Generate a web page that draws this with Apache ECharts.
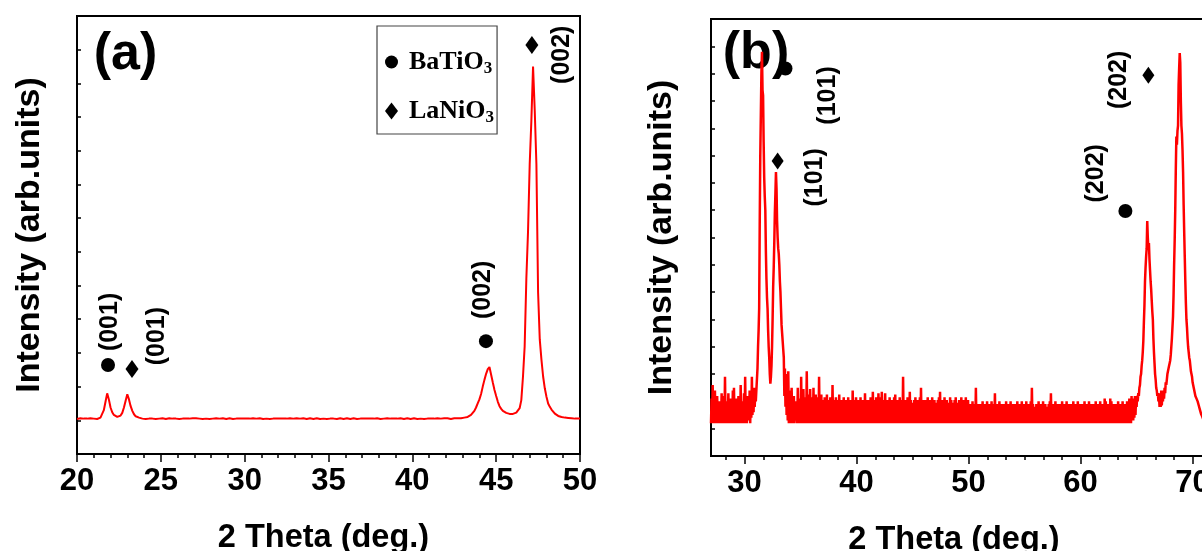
<!DOCTYPE html>
<html><head><meta charset="utf-8">
<script src="https://cdn.jsdelivr.net/npm/echarts@6/dist/echarts.min.js"></script>
<style>html,body{margin:0;padding:0;background:#fff}#c{width:1202px;height:551px}</style>
</head><body><div id="c"></div>
<script>
// ---------- Panel (a): XRD scan 20–50°, step 0.1° ----------
const thetaStartA = 20.0, thetaStepA = 0.1;
const intensityA = [
1.04,1.05,1.06,1.04,1.05,1.06,1.05,1.04,1.06,1.05,
1.05,1.06,1.04,1.06,1.08,1.12,1.30,1.55,1.80,1.62,
1.38,1.24,1.16,1.12,1.10,1.11,1.14,1.22,1.38,1.58,
1.77,1.62,1.42,1.28,1.18,1.12,1.09,1.08,1.06,1.05,
1.05,1.04,1.06,1.05,1.04,1.05,1.06,1.04,1.05,1.05,
1.04,1.06,1.05,1.04,1.05,1.06,1.04,1.05,1.06,1.05,
1.05,1.04,1.06,1.05,1.03,1.05,1.06,1.05,1.04,1.06,
1.05,1.06,1.04,1.05,1.06,1.04,1.05,1.05,1.06,1.04,
1.06,1.05,1.04,1.06,1.05,1.05,1.04,1.06,1.05,1.04,
1.05,1.06,1.05,1.04,1.06,1.05,1.04,1.05,1.06,1.05,
1.04,1.05,1.06,1.05,1.04,1.06,1.05,1.05,1.04,1.06,
1.05,1.04,1.06,1.05,1.05,1.04,1.06,1.05,1.04,1.05,
1.06,1.05,1.04,1.05,1.06,1.05,1.04,1.06,1.05,1.05,
1.04,1.06,1.05,1.05,1.04,1.06,1.05,1.04,1.05,1.06,
1.05,1.04,1.05,1.06,1.05,1.04,1.06,1.05,1.05,1.04,
1.06,1.05,1.04,1.05,1.06,1.04,1.05,1.06,1.05,1.04,
1.05,1.06,1.05,1.04,1.05,1.06,1.05,1.04,1.06,1.05,
1.04,1.05,1.06,1.05,1.04,1.05,1.06,1.05,1.04,1.06,
1.05,1.04,1.06,1.05,1.05,1.06,1.04,1.05,1.06,1.05,
1.06,1.05,1.04,1.06,1.05,1.04,1.05,1.06,1.05,1.04,
1.05,1.06,1.05,1.04,1.06,1.05,1.05,1.04,1.06,1.05,
1.04,1.05,1.06,1.05,1.04,1.06,1.05,1.05,1.04,1.06,
1.05,1.06,1.05,1.04,1.05,1.06,1.05,1.06,1.05,1.06,
1.06,1.08,1.09,1.10,1.13,1.16,1.22,1.28,1.38,1.50,
1.62,1.78,2.00,2.20,2.38,2.52,2.58,2.35,2.12,1.90,
1.72,1.55,1.42,1.34,1.28,1.24,1.22,1.20,1.19,1.18,
1.19,1.20,1.23,1.28,1.36,1.60,2.30,3.20,5.20,6.60,
8.60,9.90,11.50,10.20,8.60,4.80,3.40,2.80,2.30,1.95,
1.70,1.50,1.40,1.32,1.26,1.20,1.16,1.13,1.11,1.10,
1.09,1.08,1.10,1.07,1.08,1.06,1.07,1.05,1.06,1.05,
1.05
];

// ---------- Panel (b): XRD scan 27–72°, step 0.05° ----------
const thetaStartB = 27.0, thetaStepB = 0.05;
const intensityB = [
1.2,2.1,1.3,2.6,1.2,1.9,1.2,2.4,1.3,1.8,1.2,2.2,1.2,1.7,1.4,2.0,1.2,1.9,1.3,2.3,
1.2,1.8,1.2,2.2,1.3,2.9,1.2,2.0,1.2,1.7,1.3,2.3,1.2,1.9,1.2,2.1,1.4,1.8,1.2,2.4,
1.2,2.5,1.3,1.9,1.2,2.1,1.2,1.7,1.3,2.2,1.2,1.8,1.2,2.6,1.3,1.9,1.2,2.0,1.4,2.3,
1.2,2.9,1.3,2.0,1.2,2.2,1.5,1.9,1.3,2.4,1.2,2.1,1.4,2.9,1.5,2.2,1.6,2.5,1.8,2.3,
2.0,2.4,2.8,3.2,4.0,4.6,5.4,8.5,11.0,12.5,14.0,14.8,13.4,13.2,11.5,10.2,9.5,9.0,7.5,6.5,
5.8,5.4,4.6,4.0,3.6,3.0,2.65,2.9,3.3,4.0,5.0,6.2,6.9,7.8,8.9,9.6,10.4,9.8,8.6,8.0,
7.6,7.4,7.0,6.4,6.0,5.4,4.8,4.5,4.2,3.9,3.6,2.2,3.2,1.8,3.0,1.5,2.7,1.3,3.1,1.2,
2.4,1.2,2.3,1.3,2.5,1.2,2.0,1.2,2.2,1.2,1.2,2.0,1.3,1.9,1.2,2.5,1.2,1.8,1.3,2.1,
1.2,2.9,1.2,2.05,1.3,2.45,1.2,2.15,1.2,1.95,1.2,3.1,1.3,2.25,1.2,2.05,1.2,2.45,1.3,1.95,
1.2,2.15,1.2,2.5,1.2,1.95,1.3,2.25,1.2,2.05,1.2,2.15,1.2,2.9,1.3,2.05,1.2,2.25,1.2,1.95,
1.2,2.05,1.2,2.15,1.3,1.85,1.2,2.25,1.2,1.95,1.2,2.05,1.2,2.15,1.3,1.95,1.2,2.6,1.2,2.05,
1.2,1.95,1.2,2.15,1.2,1.85,1.3,2.05,1.2,2.25,1.2,1.95,1.2,2.05,1.2,1.85,1.3,2.15,1.2,1.95,
1.2,2.05,1.2,1.85,1.2,2.15,1.2,1.95,1.3,2.05,1.2,1.85,1.2,2.4,1.2,2.05,1.2,1.95,1.2,2.15,
1.2,1.85,1.2,2.05,1.3,1.95,1.2,2.15,1.2,1.85,1.2,2.05,1.2,1.95,1.2,2.3,1.3,2.05,1.2,1.95,
1.2,2.05,1.2,1.95,1.2,2.15,1.2,1.85,1.2,2.35,1.3,1.95,1.2,2.05,1.2,2.15,1.2,1.85,1.2,2.3,
1.2,1.95,1.2,2.15,1.2,2.35,1.3,2.05,1.2,1.85,1.2,2.3,1.2,1.95,1.2,2.05,1.2,1.85,1.3,2.15,
1.2,1.95,1.2,2.05,1.2,1.85,1.2,2.15,1.2,2.25,1.3,1.95,1.2,2.05,1.2,1.85,1.2,2.15,1.2,1.95,
1.2,2.05,1.2,2.9,1.3,1.95,1.2,2.05,1.2,1.85,1.2,2.15,1.2,1.95,1.2,2.35,1.3,2.05,1.2,1.85,
1.2,1.95,1.2,2.05,1.2,2.15,1.2,1.85,1.3,2.05,1.2,1.95,1.2,2.15,1.2,2.5,1.2,1.95,1.2,2.05,
1.2,1.85,1.2,2.05,1.2,1.95,1.3,2.15,1.2,1.85,1.2,2.05,1.2,1.95,1.2,2.15,1.2,1.85,1.2,2.05,
1.2,1.95,1.2,1.85,1.2,2.05,1.2,2.15,1.3,2.35,1.2,1.95,1.2,2.05,1.2,1.85,1.2,2.15,1.2,1.95,
1.2,2.05,1.2,1.85,1.2,1.95,1.2,2.15,1.2,2.05,1.3,1.85,1.2,1.95,1.2,2.05,1.2,2.15,1.2,1.85,
1.2,1.95,1.2,2.05,1.2,1.85,1.2,2.15,1.2,1.95,1.2,2.05,1.3,1.85,1.2,2.15,1.2,1.95,1.2,2.05,
1.2,1.7,1.2,1.9,1.2,1.8,1.2,2.0,1.2,1.7,1.3,1.9,1.2,2.5,1.2,1.8,1.2,1.9,1.2,1.7,
1.2,1.9,1.2,1.8,1.2,2.0,1.2,1.7,1.2,1.9,1.2,1.8,1.3,2.0,1.2,1.7,1.2,1.9,1.2,1.8,
1.2,2.0,1.2,1.7,1.2,1.9,1.3,2.3,1.2,1.8,1.2,1.9,1.2,1.7,1.2,2.0,1.2,1.8,1.2,1.9,
1.2,1.8,1.2,1.9,1.2,1.7,1.2,2.0,1.2,1.8,1.3,1.9,1.2,1.7,1.2,2.0,1.2,1.8,1.2,1.9,
1.2,1.7,1.2,1.9,1.2,1.8,1.2,2.0,1.2,1.7,1.2,1.9,1.3,1.8,1.2,2.0,1.2,1.7,1.2,1.9,
1.2,1.8,1.2,2.0,1.2,1.7,1.2,1.9,1.2,1.8,1.2,2.0,1.2,2.5,1.3,1.9,1.2,1.7,1.2,1.8,
1.2,1.9,1.2,1.7,1.2,2.0,1.2,1.8,1.2,1.9,1.3,1.7,1.2,2.0,1.2,1.8,1.2,1.9,1.2,1.7,
1.2,1.8,1.2,1.9,1.2,2.0,1.2,2.3,1.2,1.8,1.2,1.9,1.3,1.7,1.2,2.0,1.2,1.8,1.2,1.9,
1.2,1.7,1.2,1.9,1.2,1.8,1.2,2.0,1.2,1.7,1.2,1.9,1.2,1.8,1.3,2.0,1.2,1.7,1.2,1.9,
1.2,1.8,1.2,1.9,1.2,1.7,1.2,2.0,1.2,1.8,1.2,1.9,1.2,1.7,1.2,2.0,1.3,1.8,1.2,1.9,
1.2,1.7,1.2,1.9,1.2,1.8,1.2,2.0,1.2,1.7,1.2,1.9,1.2,1.8,1.2,2.0,1.2,1.7,1.2,1.9,
1.2,1.8,1.2,1.9,1.3,1.7,1.2,2.0,1.2,1.8,1.2,1.9,1.2,1.7,1.2,2.0,1.2,1.8,1.2,1.9,
1.2,1.7,1.2,2.1,1.2,2.0,1.2,1.8,1.2,1.9,1.2,1.7,1.2,2.1,1.2,2.0,1.2,1.8,1.3,1.9,
1.2,1.8,1.2,1.9,1.2,1.7,1.2,2.0,1.2,1.8,1.2,1.9,1.2,1.7,1.3,2.0,1.2,1.8,1.2,1.9,
1.2,1.9,1.2,2.0,1.3,1.8,1.2,2.1,1.3,1.9,1.2,2.2,1.4,2.0,1.3,2.1,1.4,2.2,1.5,2.1,
1.8,2.2,2.0,2.3,2.2,2.5,2.6,2.9,3.0,3.3,3.5,3.8,4.2,4.9,5.5,6.4,6.9,7.3,7.6,8.6,
8.0,7.6,7.8,7.2,6.8,6.4,6.1,5.7,5.3,5.0,4.3,3.8,3.4,3.0,2.8,2.5,2.4,2.2,2.3,2.0,
2.2,1.8,2.3,1.8,2.4,1.85,2.3,2.0,2.4,2.1,2.5,2.3,2.7,2.6,2.8,3.0,3.1,3.2,3.3,3.4,
3.5,3.7,4.0,4.3,4.7,5.1,5.9,7.0,7.9,9.0,10.5,11.7,11.4,11.9,12.1,13.6,14.2,14.75,14.4,13.0,
12.1,11.8,11.2,10.4,9.2,8.2,7.3,6.4,5.6,5.0,4.7,4.3,4.0,3.8,3.6,3.5,3.3,3.1,3.0,2.9,
2.7,2.6,2.5,2.4,2.3,2.2,2.25,2.1,2.15,2.0,2.05,1.85,1.9,1.7,1.75,1.55,1.6,1.45,1.5,1.35,
1.45,1.3,1.5,1.25,1.6,1.2,1.5,1.2,1.7,1.2,1.6,1.2,1.5,1.2,1.8,1.2,1.6,1.2,1.7,1.2,
1.5
];

// ---------- Phase markers (2θ, intensity) ----------
const markA_BaTiO3 = [[21.85, 2.64], [44.39, 3.35]];
const markA_LaNiO3 = [[23.28, 2.52], [47.13, 12.14]];
const markB_BaTiO3 = [[33.65, 14.19], [64.0, 8.97]];
const markB_LaNiO3 = [[32.95, 10.8], [66.05, 13.94]];

// ---------- Miller index labels ----------
const hklTextA = ['(001)', '(001)', '(002)', '(002)'];
const hklPosA  = [[21.97, 3.92], [24.8, 3.50], [44.24, 4.87], [48.95, 11.85]];
const hklTextB = ['(101)', '(101)', '(202)', '(202)'];
const hklPosB  = [[37.5, 13.2], [36.29, 10.2], [61.4, 10.35], [63.46, 13.77]];

// ---------- Axes ----------
const xTicksA = [20, 25, 30, 35, 40, 45, 50];
const xMajorB = [30, 40, 50, 60, 70];
const xMinorB = [28.333,31.667,33.333,35,36.667,38.333,41.667,43.333,45,46.667,48.333,
                 51.667,53.333,55,56.667,58.333,61.667,63.333,65,66.667,68.333,71.667];
const legendNames = ['BaTiO3', 'LaNiO3'];
const panelTitles = ['(a)', '(b)'];
const xTitle = '2 Theta (deg.)';
const yTitle = 'Intensity (arb.units)';

const dataA = intensityA.map((v, i) => [+(thetaStartA + i * thetaStepA).toFixed(2), v]);
const dataB = intensityB.map((v, i) => [+(thetaStartB + i * thetaStepB).toFixed(2), v]);

const SANS = '"Liberation Sans", Arial, Helvetica, sans-serif';
const SERIF = '"Liberation Serif", "Times New Roman", serif';
const RED = '#ff0000';

const tickLabel = { fontFamily: SANS, fontSize: 31, fontWeight: 'bold', color: '#000', margin: 12 };
const xNameStyle = { fontFamily: SANS, fontSize: 32.5, fontWeight: 'bold', color: '#000' };
const yNameStyle = { fontFamily: SANS, fontSize: 34, fontWeight: 'bold', color: '#000' };

function hklSeries(texts, pos, xi, yi) {
  return {
    type: 'scatter', xAxisIndex: xi, yAxisIndex: yi, symbol: 'circle', symbolSize: 1,
    itemStyle: { color: 'rgba(0,0,0,0)', opacity: 1 }, z: 6, silent: true,
    data: texts.map((t, i) => ({ name: t, value: pos[i] })),
    label: { show: true, position: 'inside', rotate: 90, formatter: p => p.name, opacity: 1,
      fontFamily: SANS, fontSize: 25, fontWeight: 'bold', color: '#000' }
  };
}
function markSeries(name, data, sym, size, xi, yi) {
  return { name, type: 'scatter', xAxisIndex: xi, yAxisIndex: yi, data, symbol: sym,
    symbolSize: size, itemStyle: { color: '#000', opacity: 1 }, z: 6, silent: true };
}

const chart = echarts.init(document.getElementById('c'), null, { renderer: 'canvas' });
chart.setOption({
  animation: false,
  backgroundColor: '#fff',
  grid: [
    { left: 77, top: 16, width: 503, height: 438, show: true, borderColor: '#000', borderWidth: 2,
      containLabel: false, outerBoundsMode: 'none' },
    { left: 711, top: 19, width: 504, height: 437, show: true, borderColor: '#000', borderWidth: 2,
      containLabel: false, outerBoundsMode: 'none' }
  ],
  xAxis: [
    { type: 'value', gridIndex: 0, min: 20, max: 50, interval: 5, position: 'bottom',
      axisLine: { show: true, lineStyle: { color: '#000', width: 2 } },
      axisTick: { show: true, inside: false, length: 8, lineStyle: { color: '#000', width: 1.5 } },
      minorTick: { show: true, splitNumber: 5, length: 4, lineStyle: { color: '#000', width: 1.5 } },
      axisLabel: Object.assign({ customValues: xTicksA }, tickLabel),
      splitLine: { show: false }, minorSplitLine: { show: false },
      name: xTitle, nameLocation: 'middle', nameGap: 68,
      nameTextStyle: Object.assign({ padding: [0, 10, 0, 0] }, xNameStyle) },
    { type: 'value', gridIndex: 1, min: 27, max: 72, position: 'bottom',
      axisLine: { show: true, lineStyle: { color: '#000', width: 2 } },
      axisTick: { show: true, inside: false, length: 8, customValues: xMajorB, lineStyle: { color: '#000', width: 1.5 } },
      axisLabel: Object.assign({ customValues: xMajorB }, tickLabel),
      splitLine: { show: false },
      name: xTitle, nameLocation: 'middle', nameGap: 68,
      nameTextStyle: Object.assign({ padding: [0, 18, 0, 0] }, xNameStyle) },
    { type: 'value', gridIndex: 1, min: 27, max: 72, position: 'bottom', offset: 0,
      axisLine: { show: false },
      axisTick: { show: true, inside: false, length: 4, customValues: xMinorB, lineStyle: { color: '#000', width: 1.5 } },
      axisLabel: { show: false }, splitLine: { show: false } }
  ],
  yAxis: [
    { type: 'value', gridIndex: 0, min: 0, max: 13, interval: 1,
      axisLine: { show: true, lineStyle: { color: '#000', width: 2 } },
      axisTick: { show: true, inside: true, length: 4, lineStyle: { color: '#000', width: 1.5 } },
      axisLabel: { show: false }, splitLine: { show: false },
      name: yTitle, nameLocation: 'middle', nameRotate: 90, nameGap: 30, nameTextStyle: yNameStyle },
    { type: 'value', gridIndex: 1, min: 0, max: 16, interval: 1,
      axisLine: { show: true, lineStyle: { color: '#000', width: 2 } },
      axisTick: { show: true, inside: true, length: 4, lineStyle: { color: '#000', width: 1.5 } },
      axisLabel: { show: false }, splitLine: { show: false },
      name: yTitle, nameLocation: 'middle', nameRotate: 90, nameGap: 32, nameTextStyle: yNameStyle }
  ],
  legend: {
    data: [{ name: legendNames[0], icon: 'circle' }, { name: legendNames[1], icon: 'diamond' }],
    orient: 'vertical', left: 377, top: 26, itemWidth: 13, itemHeight: 17, itemGap: 21,
    padding: [23, 3, 8, 8], borderColor: '#444', borderWidth: 1.2, selectedMode: false,
    itemStyle: { opacity: 1 },
    formatter: n => '{m|' + n.slice(0, -1) + '}{s|' + n.slice(-1) + '}',
    textStyle: { rich: {
      m: { fontFamily: SERIF, fontWeight: 'bold', fontSize: 26, lineHeight: 30, color: '#000', padding: [0, 0, 0, 6] },
      s: { fontFamily: SERIF, fontWeight: 'bold', fontSize: 17, lineHeight: 17, color: '#000', verticalAlign: 'bottom' }
    } }
  },
  graphic: [
    { type: 'text', x: 125.5, y: 54.5, z: 0, zlevel: 0, silent: true,
      style: { text: panelTitles[0], font: 'bold 52px ' + SANS, fill: '#000', align: 'center', verticalAlign: 'middle', textAlign: 'center', textVerticalAlign: 'middle' } },
    { type: 'text', x: 756, y: 54, z: 0, zlevel: 0, silent: true,
      style: { text: panelTitles[1], font: 'bold 52px ' + SANS, fill: '#000', align: 'center', verticalAlign: 'middle', textAlign: 'center', textVerticalAlign: 'middle' } }
  ],
  series: [
    { type: 'line', xAxisIndex: 0, yAxisIndex: 0, data: dataA, symbol: 'none', showSymbol: false,
      lineStyle: { color: RED, width: 2 }, z: 3, silent: true },
    { type: 'line', xAxisIndex: 1, yAxisIndex: 1, data: dataB, symbol: 'none', showSymbol: false,
      lineStyle: { color: RED, width: 2.5 }, z: 3, silent: true },
    markSeries(legendNames[0], markA_BaTiO3, 'circle', 14, 0, 0),
    markSeries(legendNames[1], markA_LaNiO3, 'diamond', [13, 18], 0, 0),
    markSeries(legendNames[0], markB_BaTiO3, 'circle', 14, 1, 1),
    markSeries(legendNames[1], markB_LaNiO3, 'diamond', [12, 17], 1, 1),
    hklSeries(hklTextA, hklPosA, 0, 0),
    hklSeries(hklTextB, hklPosB, 1, 1)
  ]
});
</script></body></html>
